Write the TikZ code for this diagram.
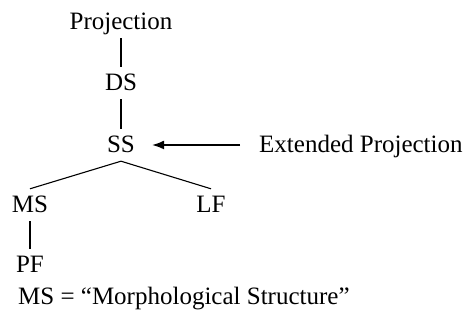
\documentclass[tikz,border=0pt]{standalone}
\usepackage{fontspec}
\setmainfont{Liberation Serif}
\usepackage{tikz}
\usetikzlibrary{arrows.meta}

\begin{document}
\begin{tikzpicture}[
      x=1pt,y=1pt,
      >={Latex[length=12pt,width=9pt]},
      level/.style={font=\fontsize{25}{29}\selectfont,inner sep=4pt,
        text height=20pt,text depth=4pt},
      branch/.style={line width=1.1pt,draw=black},
      pointer/.style={->,line width=1.4pt,draw=black}
    ]
    \useasboundingbox (0,0) rectangle (467,320);

    \node[level,anchor=base] (proj) at (121,290) {Projection};
    \node[level,anchor=base] (ds) at (121,229) {DS};
    \node[level,anchor=base] (ss) at (121,167) {SS};
    \node[level,anchor=base] (ms) at (30,107) {MS};
    \node[level,anchor=base] (lf) at (211,107) {LF};
    \node[level,anchor=base] (pf) at (30,47) {PF};
    \node[level,anchor=base west] (ext) at (255,167) {Extended Projection};
    \node[level,anchor=base west] (note) at (14,15)
      {MS = “Morphological Structure”};

    \draw[branch] (proj.south) -- (ds.north);
    \draw[branch] (ds.south) -- (ss.north);
    \draw[branch] (ss.south) -- (ms.north);
    \draw[branch] (ss.south) -- (lf.north);
    \draw[branch] (ms.south) -- (pf.north);
    \draw[pointer,shorten <=15pt,shorten >=13pt] (ext.west) -- (ss.east);
  \end{tikzpicture}
\end{document}
